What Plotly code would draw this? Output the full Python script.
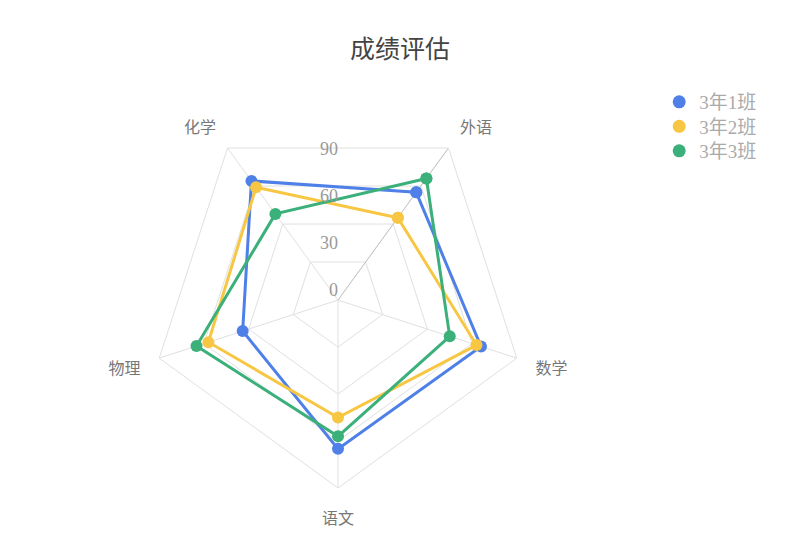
import plotly.graph_objects as go

# subjects, in drawing order (clockwise from the top right)
subjects = ["外语", "数学", "语文", "物理", "化学"]
classes = ["3年1班", "3年2班", "3年3班"]
scores_1 = [85, 96, 95, 64, 94]
scores_2 = [65, 93, 75, 87, 89]
scores_3 = [96, 75, 87, 95, 68]
tick_vals = [0, 30, 60, 90]
r_max = 120

colors = ["#4e80e8", "#f7c744", "#3bb07a"]
label_font = "Liberation Serif, DejaVu Serif, Noto Sans CJK SC, serif"
grid = "#e0e0e0"
legend_ids = ["legend", "legend2", "legend3"]

fig = go.Figure()

# darker spoke along the first subject
fig.add_trace(go.Scatterpolar(
    r=[0, r_max], theta=[subjects[0], subjects[0]], mode="lines",
    line=dict(color="#c4c4c4", width=1), showlegend=False, hoverinfo="skip"))

# radial tick labels, straight up from the centre
fig.add_trace(go.Scatterpolar(
    r=tick_vals, theta=[90] * len(tick_vals), mode="text",
    text=[str(v) for v in tick_vals], textposition="top left",
    textfont=dict(family=label_font, size=18, color="#999"),
    subplot="polar2", showlegend=False, hoverinfo="skip"))

for name, vals, c, lg in zip(classes, [scores_1, scores_2, scores_3], colors, legend_ids):
    fig.add_trace(go.Scatterpolar(
        r=vals + vals[:1], theta=subjects + subjects[:1], mode="lines+markers",
        name=name, line=dict(color=c, width=3), marker=dict(size=12, color=c),
        showlegend=False))
    # legend entry with a dot only (one small legend per class)
    fig.add_trace(go.Scatterpolar(
        r=[None], theta=[subjects[0]], mode="markers", name=name,
        marker=dict(size=13, color=c), legend=lg))

dom = dict(x=[0.1775, 0.6475], y=[0.1304, 0.8114])

leg_style = dict(x=0.814, xanchor="left", yanchor="middle", itemwidth=30,
                 bgcolor="rgba(0,0,0,0)",
                 font=dict(family=label_font, size=19, color="#aaa"))

fig.update_layout(
    width=800, height=552,
    margin=dict(l=0, r=0, t=0, b=0),
    paper_bgcolor="white",
    title=dict(text="成绩评估", x=0.49, xanchor="center", y=0.925, yanchor="middle",
               font=dict(family="Noto Sans CJK SC", size=25, color="#444")),
    polar=dict(
        domain=dom,
        bgcolor="white",
        gridshape="linear",
        radialaxis=dict(range=[0, r_max], tickvals=tick_vals, showticklabels=False,
                        showline=False, ticks="", gridcolor=grid, gridwidth=1),
        angularaxis=dict(rotation=54, direction="clockwise", ticks="outside",
                         ticklen=16, tickcolor="rgba(0,0,0,0)",
                         showline=True, linecolor=grid, linewidth=1,
                         gridcolor=grid, gridwidth=1,
                         tickfont=dict(family=label_font, size=16, color="#777")),
    ),
    polar2=dict(
        domain=dom,
        bgcolor="rgba(0,0,0,0)",
        radialaxis=dict(range=[0, r_max], visible=False),
        angularaxis=dict(visible=False),
    ),
    legend=dict(y=0.8297, **leg_style),
    legend2=dict(y=0.7853, **leg_style),
    legend3=dict(y=0.7409, **leg_style),
)

fig.write_html("out.html")
